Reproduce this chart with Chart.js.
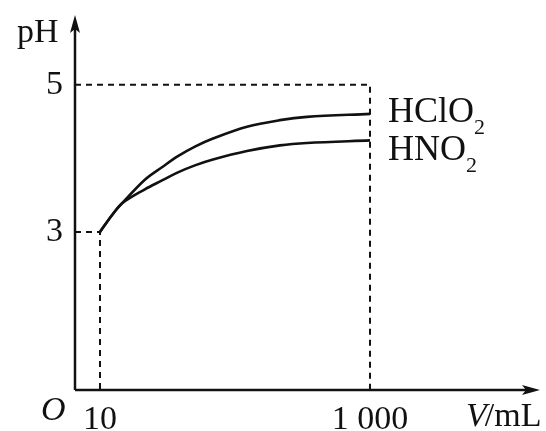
<!DOCTYPE html>
<html>
<head>
<meta charset="utf-8">
<script src="https://cdn.jsdelivr.net/npm/chart.js@4"></script>
<style>
html,body{margin:0;padding:0;background:#fff;}
#wrap{width:546px;height:431px;position:relative;}
</style>
</head>
<body>
<div id="wrap"><canvas id="c" width="546" height="431"></canvas></div>
<script>
// ---- data ----
const volumes   = [10, 12.3, 14.6, 21.5, 28.8, 37.8, 50.5, 68.7, 122.7, 215, 341, 1000];   // V / mL
const phHClO2   = [3.0, 3.23, 3.39, 3.71, 3.88, 4.03, 4.16, 4.27, 4.43, 4.52, 4.565, 4.605];
const phHNO2    = [3.0, 3.23, 3.39, 3.58, 3.70, 3.81, 3.905, 3.985, 4.10, 4.177, 4.21, 4.245];
const xTickValues = [10, 1000];
const xTickLabels = ['10', '1 000'];
const yTickValues = [3, 5];
const yTickLabels = ['3', '5'];
const seriesNames = ['HClO', 'HNO'];
const guideStartV = 10, guideEndV = 1000;   // dashed guides
const guideLowPH = 3, guideHighPH = 5;

// axis ranges (schematic axes)
const X_MIN = 6.53, X_MAX = 18160;
const Y_MIN = 0.85, Y_MAX = 5.95;

const FONT = '"Liberation Serif", "Times New Roman", serif';

const toPts = (xs, ys) => xs.map((x, i) => ({x: x, y: ys[i]}));

const axesPlugin = {
  id: 'axesArrows',
  afterDatasetsDraw(chart) {
    const {ctx, chartArea: a, scales} = chart;
    const L = a.left, B = a.bottom, T = a.top, R = a.right;
    ctx.save();
    ctx.strokeStyle = '#111';
    ctx.fillStyle = '#111';
    ctx.lineWidth = 2.5;
    ctx.beginPath();
    ctx.moveTo(L, B); ctx.lineTo(L, T + 10);
    ctx.moveTo(L, B); ctx.lineTo(R - 10, B);
    ctx.stroke();
    // y arrow
    ctx.beginPath();
    ctx.moveTo(L, T);
    ctx.lineTo(L - 5, T + 18);
    ctx.lineTo(L, T + 14);
    ctx.lineTo(L + 5, T + 18);
    ctx.closePath(); ctx.fill();
    // x arrow
    ctx.beginPath();
    ctx.moveTo(R, B);
    ctx.lineTo(R - 18, B - 5);
    ctx.lineTo(R - 14, B);
    ctx.lineTo(R - 18, B + 5);
    ctx.closePath(); ctx.fill();

    // texts
    ctx.fillStyle = '#111';
    ctx.textBaseline = 'alphabetic';
    ctx.font = '34px ' + FONT;
    ctx.textAlign = 'left';
    ctx.fillText('pH', 17, 42);
    ctx.font = 'italic 34px ' + FONT;
    ctx.fillText('O', 41, 420);
    // V/mL
    ctx.font = 'italic 34px ' + FONT;
    ctx.fillText('V', 466, 426);
    const wV = ctx.measureText('V').width;
    ctx.font = '34px ' + FONT;
    ctx.fillText('/mL', 466 + wV - 2, 426);

    // series labels
    const xs = scales.x.getPixelForValue(guideEndV);
    const drawFormula = (base, bx, by) => {
      ctx.font = '36px ' + FONT;
      ctx.fillText(base, bx, by);
      const w = ctx.measureText(base).width;
      ctx.font = '22px ' + FONT;
      ctx.fillText('2', bx + w, by + 12);
    };
    drawFormula(seriesNames[0], xs + 18, 122);
    drawFormula(seriesNames[1], xs + 18, 160);
    ctx.restore();
  }
};

const guideStyle = {
  showLine: true, pointRadius: 0, borderColor: '#111', borderWidth: 2,
  borderDash: [6, 5], fill: false, clip: false, tension: 0
};
const curveStyle = {
  showLine: true, pointRadius: 0, borderColor: '#111', borderWidth: 2.6,
  fill: false, clip: false, tension: 0.35
};

new Chart(document.getElementById('c'), {
  type: 'scatter',
  data: {
    datasets: [
      Object.assign({label: 'guide5', data: [
        {x: X_MIN, y: guideHighPH}, {x: guideEndV, y: guideHighPH}, {x: guideEndV, y: Y_MIN}
      ]}, guideStyle),
      Object.assign({label: 'guide3', data: [
        {x: X_MIN, y: guideLowPH}, {x: guideStartV, y: guideLowPH}, {x: guideStartV, y: Y_MIN}
      ]}, guideStyle),
      Object.assign({label: 'HClO2', data: toPts(volumes, phHClO2)}, curveStyle),
      Object.assign({label: 'HNO2', data: toPts(volumes, phHNO2)}, curveStyle)
    ]
  },
  options: {
    responsive: false,
    animation: false,
    layout: {padding: {left: 0, right: 6, top: 15, bottom: 0}},
    plugins: {legend: {display: false}, tooltip: {enabled: false}},
    scales: {
      x: {
        type: 'logarithmic', min: X_MIN, max: X_MAX,
        grid: {display: false, drawTicks: false}, border: {display: false},
        afterBuildTicks: s => { s.ticks = xTickValues.map(v => ({value: v})); },
        afterFit: s => { s.height = 41; s.paddingLeft = 0; s.paddingRight = 0; },
        ticks: {
          autoSkip: false, maxRotation: 0, padding: 10, color: '#111',
          font: {family: FONT, size: 34},
          callback: (v) => { const i = xTickValues.indexOf(v); return i >= 0 ? xTickLabels[i] : ''; }
        }
      },
      y: {
        type: 'linear', min: Y_MIN, max: Y_MAX,
        grid: {display: false, drawTicks: false}, border: {display: false},
        afterBuildTicks: s => { s.ticks = yTickValues.map(v => ({value: v})); },
        afterFit: s => { s.width = 75; s.paddingTop = 0; s.paddingBottom = 0; },
        ticks: {
          autoSkip: false, padding: 12, color: '#111',
          font: {family: FONT, size: 34},
          callback: (v) => { const i = yTickValues.indexOf(v); return i >= 0 ? yTickLabels[i] : ''; }
        }
      }
    }
  },
  plugins: [axesPlugin]
});
</script>
</body>
</html>
